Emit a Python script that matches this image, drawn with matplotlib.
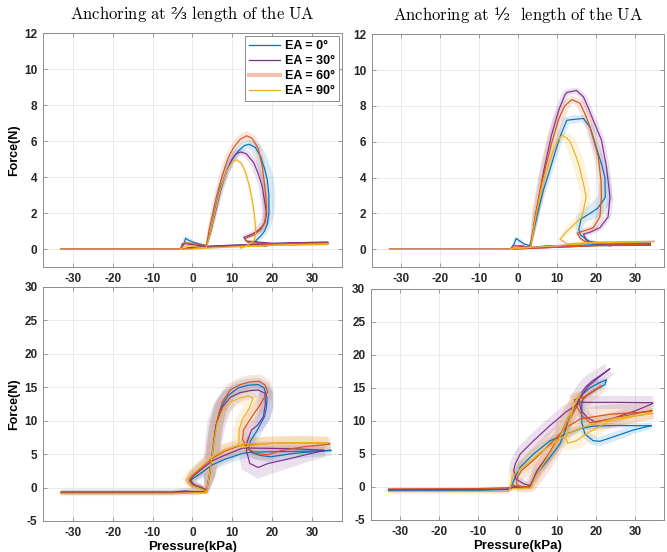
import numpy as np
import matplotlib
matplotlib.use('Agg')
import matplotlib.pyplot as plt
from matplotlib.path import Path
from matplotlib.patches import PathPatch
from matplotlib.lines import Line2D

plt.rcParams['font.family'] = ['Liberation Sans', 'DejaVu Sans']
plt.rcParams['font.weight'] = 'bold'
plt.rcParams['axes.unicode_minus'] = False
plt.rcParams['mathtext.fontset'] = 'cm'

# series colours / labels (MATLAB default order as used in the figure)
colors = ['#0072BD', '#7E2F8E', '#D95319', '#EDB120']
labels = ['EA = 0°', 'EA = 30°', 'EA = 60°', 'EA = 90°']
titles = [r'$\mathrm{Anchoring\ at}$ ⅔ $\mathrm{length\ of\ the\ UA}$',
          r'$\mathrm{Anchoring\ at}$ ½  $\mathrm{length\ of\ the\ UA}$']
xticks = [-30, -20, -10, 0, 10, 20, 30]

# ---- data: (pressure kPa, force N, spread N) ----
# top left: anchoring at 2/3
A_EA0 = [(-33,0,.02),(-3,0,.02),(-2.2,0.25,.09),(-1.7,0.6,.15),(-1,0.5,.15),(0,0.4,.12),(1.5,0.3,.09),
         (3.5,0.2,.06),(4.6,1.0,.09),(5.5,2.0,.12),(7,3.4,.15),(8.7,4.4,.18),(10,5.0,.18),(11.5,5.45,.2),
         (13,5.75,.24),(14.2,5.83,.27),(15.8,5.65,.3),(17.1,5.15,.33),(18.2,4.4,.36),(18.8,3.85,.36),
         (19.2,3.0,.36),(19.2,2.0,.3),(18.8,1.4,.24),(18.1,1.0,.2),(17,0.7,.18),(15.8,0.45,.12),
         (17.1,0.2,.06),(18.3,0.15,.05),(20,0.3,.03),(26,0.33,.03),(34,0.35,.03),(34,0.3,.03),
         (25,0.28,.03),(15,0.25,.03),(8,0.2,.03),(3.5,0.15,.03),(0,0.1,.03),(-3,0,.02)]
A_EA30 = [(-33,0,.02),(-3,0,.02),(-2.5,0.3,.06),(-1.5,0.3,.07),(0,0.25,.06),(2,0.2,.06),(3.5,0.15,.06),
          (4.5,0.9,.09),(5.5,1.8,.12),(7,3.2,.15),(8.5,4.3,.18),(10,5.0,.2),(11,5.3,.2),(12.1,5.4,.2),
          (13.5,5.3,.2),(15.4,4.8,.2),(16.5,4.2,.2),(17.5,3.5,.2),(18.6,2.0,.22),(18.2,1.5,.24),
          (17.5,1.25,.24),(16,0.95,.18),(14.6,0.8,.15),(12.9,0.65,.12),(13.5,0.45,.06),(20,0.33,.03),
          (34,0.4,.03),(34,0.35,.03),(20,0.3,.03),(8,0.2,.03),(3.5,0.15,.03),(0,0.1,.03),(-3,0,.02)]
A_EA60 = [(-33,0,.02),(-3,0,.02),(-2.5,0.3,.06),(-1.5,0.35,.09),(0,0.3,.09),(2,0.25,.06),(3.5,0.2,.06),
          (4.2,1.1,.09),(5,1.9,.12),(6,2.9,.15),(7.5,4.1,.18),(9,5.1,.2),(10.5,5.7,.2),(12,6.1,.24),
          (13.6,6.3,.27),(15,6.15,.24),(16.5,5.6,.18),(17.6,4.5,.18),(18.3,3.2,.18),(18.6,2.3,.18),
          (18.2,1.5,.18),(17.2,1.1,.15),(15.5,0.8,.12),(13.8,0.65,.09),(13.2,0.55,.06),(14,0.35,.05),
          (20,0.3,.03),(34,0.35,.03),(34,0.3,.03),(20,0.25,.03),(8,0.15,.03),(3.5,0.1,.03),
          (0,0.05,.03),(-3,0,.02)]
A_EA90 = [(-33,0,.02),(-3,0,.02),(-2,0.15,.03),(-1,0.2,.05),(0,0.15,.05),(2,0.1,.03),(3.5,0.1,.03),
          (4.5,0.9,.06),(5.5,1.9,.07),(7,3.3,.09),(8.5,4.3,.09),(10,4.85,.09),(11.1,4.96,.09),
          (12.2,4.8,.09),(13.3,4.3,.09),(14.3,3.5,.09),(15.1,2.6,.09),(15.7,1.6,.09),(15.9,0.9,.09),
          (15.6,0.55,.07),(14.6,0.33,.06),(13,0.12,.05),(12,0.05,.03),(12.3,0.15,.03),(20,0.22,.03),
          (34,0.3,.03),(34,0.25,.03),(20,0.2,.03),(8,0.1,.03),(3.5,0.05,.03),(0,0,.03),(-3,0,.02)]

# top right: anchoring at 1/2
B_EA0 = [(-33,0,.02),(-2,0,.03),(-1,0.3,.09),(-0.5,0.6,.12),(0.5,0.45,.12),(1.5,0.3,.09),(3,0.2,.06),
         (4,1.0,.09),(5,2.0,.12),(6.5,3.3,.15),(8,4.3,.18),(9.5,5.4,.18),(11,6.4,.2),(12.5,7.2,.24),
         (14.5,7.25,.24),(16.8,7.3,.2),(18.5,6.8,.18),(20.2,5.6,.18),(21.5,4.7,.2),(22.3,4.0,.28),
         (22.4,2.9,.4),(20.5,2.3,.45),(18.5,2.0,.4),(16.2,1.7,.3),(15.6,1.1,.2),(16,0.8,.15),
         (18.2,0.45,.12),(21,0.35,.06),(28,0.35,.03),(34,0.35,.03),(34,0.3,.03),(20,0.25,.03),
         (8,0.2,.03),(3,0.1,.03),(0,0.05,.03),(-2,0,.02)]
B_EA30 = [(-33,0,.02),(-2,0,.03),(-1,0.1,.06),(1,0.15,.06),(3.2,0.1,.06),(4.6,2.0,.18),(6.6,4.4,.2),
          (8.5,6.3,.2),(10.5,7.8,.2),(12,8.6,.18),(12.5,8.75,.18),(15,8.86,.18),(16.8,8.5,.18),
          (18,7.9,.18),(19.3,7.2,.18),(21.4,6.1,.18),(22.7,4.6,.18),(23.6,2.9,.18),(23.1,1.8,.18),
          (21,1.2,.18),(18.5,0.95,.15),(16.8,0.84,.12),(17.5,0.5,.09),(19,0.3,.06),(21.9,0.28,.06),
          (23.6,0.19,.06),(25,0.25,.03),(34,0.25,.03),(34,0.22,.03),(20,0.2,.03),(3,0.05,.03),
          (-2,0,.02)]
B_EA60 = [(-33,0,.02),(-2,0,.03),(-1,0.2,.06),(1,0.2,.06),(3.2,0.1,.06),(4.5,2.0,.2),(6.4,4.0,.27),
          (8.7,6.0,.3),(10.5,7.3,.3),(12,8.0,.27),(13.8,8.35,.24),(15.9,8.15,.24),(17.5,7.4,.24),
          (18.5,6.8,.24),(19.8,5.8,.24),(20.6,5.15,.24),(21.3,3.8,.2),(21.4,2.9,.2),(21,1.8,.2),
          (19.3,1.2,.2),(16.5,1.0,.15),(15.2,0.9,.12),(16,0.6,.09),(17.6,0.37,.06),(22,0.3,.03),
          (34,0.28,.03),(34,0.25,.03),(20,0.2,.03),(3,0.05,.03),(-2,0,.02)]
B_EA90 = [(-33,0,.02),(-2,0,.03),(-1,0.1,.06),(1,0.1,.06),(3.2,0.1,.06),(4.7,2.0,.18),(6.3,3.7,.2),
          (7.5,4.5,.18),(9,5.5,.18),(10.3,6.1,.18),(11.3,6.37,.2),(12.5,6.2,.27),(13.4,6.0,.33),
          (14.5,5.4,.33),(15.5,4.8,.33),(16.8,3.65,.3),(17.5,2.9,.27),(16.4,1.8,.27),(14,1.3,.22),
          (12.5,1.0,.18),(10.8,0.56,.12),(12.5,0.3,.06),(20,0.4,.03),(35,0.45,.03),(35,0.42,.03),
          (20,0.35,.03),(3,0.1,.03),(-2,0,.02)]

# bottom left: anchoring at 2/3, second loading condition
C_EA0 = [(-33,-0.7,.3),(-5,-0.7,.3),(0,-0.6,.3),(3.5,-0.6,.3),(4.2,1.5,.8),(5,5,1),(5.8,9,1),
         (7,11.8,1),(9,13.8,1),(11.5,14.9,1),(14,15.3,1),(16.5,15.4,1),(18,14.9,1),(18.7,13.5,1),
         (18.6,12,1),(18.1,10.6,.9),(16.3,8.6,.8),(14.6,7,.8),(14,5.8,.8),(15.3,5.1,.8),(17,4.8,.8),
         (19.6,4.6,.8),(25.4,5.1,.8),(34.8,5.6,.8),(34.8,5.5,.8),(25,5.4,.8),(15,5.3,.8),
         (12.5,5.1,.8),(8,4.2,.8),(5,3.4,.8),(2,2.1,.8),(0,1.3,.7),(-0.6,0.9,.6),(0.3,0.3,.5),
         (2,0,.4),(3.5,-0.3,.3)]
C_EA30 = [(-33,-0.7,.4),(-5,-0.7,.4),(-2,-0.5,.5),(0,-0.6,.5),(3.5,-0.6,.4),(4.3,2,1),(5,5.5,1.2),
          (6,9.5,1.4),(7.5,12,1.4),(9.5,13.5,1.4),(12,14.2,1.3),(14.5,14.5,1.2),(16.5,14.6,1.2),
          (18.2,14.1,1.2),(18.3,12.5,1.2),(17.8,10.6,1.1),(16.3,9.3,1),(14.8,8.6,1),(13.6,6.6,1),
          (13.6,5.4,1.2),(14.4,3.6,1.5),(16.5,3.0,1.7),(19,3.6,1.6),(21.3,3.9,1.5),(25,4.4,1.3),
          (29,5,1.1),(33,5.5,1),(33,5.6,1),(25,5.8,1),(15,5.9,1),(12.5,5.9,1),(8,4.8,1),(5,4.0,1),
          (2,2.6,.9),(0,1.6,.8),(-0.6,1.1,.7),(0.5,0.4,.6),(2,0.1,.5),(3.5,-0.4,.4)]
C_EA60 = [(-33,-0.8,.3),(-5,-0.8,.3),(0,-0.7,.3),(3.5,-0.7,.3),(4.3,2,.8),(5.2,6,1),(6.2,10,1),
          (7.5,12.8,1),(9.5,14.6,1),(12,15.4,1),(14.5,15.8,1),(16.8,15.9,1),(18.3,15.3,1),
          (18.9,14.3,1),(17,12.4,1),(14.6,10.3,.9),(12.8,8.6,.8),(12.6,7.2,.8),(13.5,6.0,.8),
          (16,5.1,.8),(19,4.9,.8),(22,5.5,.8),(28,6.1,.8),(34.5,6.5,.8),(34.5,6.6,.9),(28,6.7,1),
          (20,6.6,1),(12.5,6.4,1),(8,5.4,1),(5,4.4,1),(2,2.8,.9),(0,1.8,.8),(-0.8,1.1,.7),
          (0,0.4,.5),(2,0,.4),(3.5,-0.5,.3)]
C_EA90 = [(-33,-0.9,.4),(-5,-0.9,.4),(0,-0.8,.4),(3.5,-0.8,.3),(4.3,2,.8),(5.2,6,1),(6.2,9.5,1),
          (7.5,11.5,1),(9.5,12.8,1),(12,13.4,1),(14,13.7,1),(15.2,13.4,1),(14.2,11.8,1),
          (12.5,10.2,.9),(11.7,8.6,.9),(11.7,6.4,.9),(12.5,6.0,.9),(15,6.3,1),(20,6.6,1),(27,6.6,1),
          (34,6.6,1),(34,6.7,1),(27,6.7,1),(20,6.65,1),(12.5,6.5,1),(8,5.6,1),(5,4.6,1),(2,3.0,.9),
          (0,2.0,.8),(-1.4,1.3,.7),(-0.5,0.3,.6),(1.5,-0.1,.5),(3.5,-0.6,.4)]

# bottom right: anchoring at 1/2, second loading condition
D_EA0 = [(-33,-0.5,.2),(-10,-0.5,.2),(-2.5,-0.4,.2),(-1,0,.3),(1,-0.1,.3),(3,0,.3),(4.9,2,.5),
         (8.3,4.5,.5),(10.8,6.5,.5),(12.5,9,.5),(13.8,11.5,.5),(15.5,13.5,.5),(18.5,15,.5),
         (21,15.8,.5),(22.7,16.2,.4),(22.3,15.5,.4),(19.5,14.5,.4),(16.8,13.5,.4),(16.4,12.5,.4),
         (16.4,9.8,.5),(17.2,8,.6),(19.3,7,.7),(21,6.9,.7),(23.6,7.4,.7),(29.5,8.6,.6),(34.2,9.3,.5),
         (34.2,9.25,.4),(25.3,9.3,.4),(19.3,9.2,.4),(15.9,8.8,.5),(12.5,8,.6),(8.3,7,.6),(4.1,5,.6),
         (0.7,3,.5),(-0.6,1.5,.4),(-1.5,0.2,.3),(-2.5,-0.4,.2)]
D_EA30 = [(-33,-0.4,.2),(-10,-0.35,.2),(-2,-0.3,.2),(-1,0,.3),(1,0,.4),(3.2,0.1,.5),(5,2.5,.8),
          (8,5,.9),(11,8,1),(13,10.5,1),(15.5,13,1),(18,15.2,1.2),(21,16.7,1.2),(23.6,17.9,1),
          (22,17.2,1),(19,16,1.2),(17.5,15.2,1.2),(15.5,13.5,1.2),(16.3,11.5,1),(18,10.4,.8),
          (20,9.8,.8),(24,10.3,.8),(30,11.5,.8),(34.5,12.6,.8),(34.5,12.75,1),(25,12.8,1),
          (16,12.8,1),(12.5,11.4,1),(8.3,9.3,1),(4.1,7,1),(0.7,5,.9),(-0.6,3.5,.8),(-1,2.5,.7),
          (-0.4,1.2,.6),(1.5,0.5,.5),(3.2,0.2,.5)]
D_EA60 = [(-33,-0.3,.2),(-10,-0.25,.2),(-2,-0.1,.2),(-1,0.3,.4),(0,0.1,.8),(2,0,.9),(3.2,0,.9),
          (4.5,1.5,1.2),(6.5,3.5,1.4),(9,6,1.5),(11.5,8.5,1.5),(13.5,10.5,1.5),(15.5,12.5,1.4),
          (18,14,1.2),(21.5,15.3,1),(20,14.8,.8),(17,13.6,1),(14.5,13.2,1),(15,12.3,1.2),
          (16.5,10.8,1.3),(18.5,9.7,1.3),(23.6,10.3,1.4),(34.4,11.6,1.3),(34.2,11.4,1.3),
          (23.6,11,1.5),(16,10.3,1.5),(12.5,9,1.5),(8,6.3,1.5),(4,4,1.4),(1,2.5,1.2),(0,1.5,1),
          (-0.3,0.5,.8),(0.5,0.1,.7),(2,0,.6),(3.2,0,.5)]
D_EA90 = [(-33,-0.7,.4),(-10,-0.7,.4),(-2.5,-0.7,.4),(-1.5,-0.3,.4),(1,-0.2,.5),(3.3,-0.2,.5),
          (5,2,.8),(8,4.8,1),(11,7.8,1),(13,10.5,1),(14.8,12.8,1),(16.2,14.2,.9),(15.5,13.6,.9),
          (14.2,12,1),(13,9.5,1.1),(12.3,7.5,1.2),(12.8,6.6,1.2),(15,7,1.3),(18,8.2,1.2),
          (23.6,10,1),(34.6,11.2,.8),(34.6,11.1,.8),(25,10.4,1),(18,9.3,1.1),(12.5,8,1.1),
          (11,7.3,1.1),(6,5.3,1.1),(3,3.8,1),(0,2.4,.8),(-1.4,1.5,.6),(-1.8,0,.4),(-2.5,-0.7,.4)]

panels = [
    [A_EA0, A_EA30, A_EA60, A_EA90],
    [B_EA0, B_EA30, B_EA60, B_EA90],
    [C_EA0, C_EA30, C_EA60, C_EA90],
    [D_EA0, D_EA30, D_EA60, D_EA90],
]


def band(ax, xy, spread, color):
    # shaded spread drawn as a ribbon perpendicular to the curve (in screen space)
    T = ax.transData
    pts = T.transform(xy)
    ppu = T.transform([(0, 1)])[0, 1] - T.transform([(0, 0)])[0, 1]
    w = spread * ppu
    d = np.gradient(pts, axis=0)
    nrm = np.hypot(d[:, 0], d[:, 1]) + 1e-9
    n = np.column_stack([-d[:, 1] / nrm, d[:, 0] / nrm])
    up = pts + n * w[:, None]
    lo = pts - n * w[:, None]
    verts, codes = [], []
    for i in range(len(pts) - 1):
        q = np.array([up[i], up[i + 1], lo[i + 1], lo[i]])
        area = 0.5 * np.sum(q[:, 0] * np.roll(q[:, 1], -1) - np.roll(q[:, 0], -1) * q[:, 1])
        if area < 0:
            q = q[::-1]
        verts.extend(q)
        verts.append(q[0])
        codes += [Path.MOVETO, Path.LINETO, Path.LINETO, Path.LINETO, Path.CLOSEPOLY]
    verts = T.inverted().transform(np.array(verts))
    ax.add_patch(PathPatch(Path(verts, codes), fc=color, ec='none', alpha=0.15, zorder=1))


fig = plt.figure(figsize=(6.67, 5.52), dpi=100)
rects = [
    [0.0645, 0.516, 0.448, 0.424],
    [0.5577, 0.516, 0.438, 0.422],
    [0.0645, 0.0562, 0.448, 0.424],
    [0.556, 0.058, 0.440, 0.419],
]
ylims = [(-1, 12), (-1, 12), (-5, 30), (-5, 30)]
yticks = [np.arange(0, 13, 2), np.arange(0, 13, 2), np.arange(-5, 31, 5), np.arange(-5, 31, 5)]

for k in range(4):
    ax = fig.add_axes(rects[k])
    ax.set_xlim(-37.5, 37.5)
    ax.set_ylim(*ylims[k])
    ax.set_xticks(xticks)
    ax.set_yticks(yticks[k])
    ax.grid(color='#e6e6e6', lw=0.6)
    ax.set_axisbelow(True)
    for sp in ax.spines.values():
        sp.set_color('#8c8c8c')
        sp.set_linewidth(0.7)
    ax.tick_params(direction='in', top=True, right=True, length=3, width=0.6,
                   color='#8c8c8c', labelsize=8.5, labelcolor='#262626', pad=4)

    for data, c in zip(panels[k], colors):
        arr = np.array(data, dtype=float)
        band(ax, arr[:, :2], arr[:, 2], c)
    for data, c in zip(panels[k], colors):
        arr = np.array(data, dtype=float)
        ax.plot(arr[:, 0], arr[:, 1], color=c, lw=0.85, zorder=3)

    if k < 2:
        ax.set_title(titles[k], family=['DejaVu Serif'], fontweight='normal',
                     fontsize=12, pad=10)
    if k in (0, 2):
        ax.set_ylabel('Force(N)', fontsize=9, fontweight='bold', labelpad=3)
    if k >= 2:
        ax.set_xlabel('Pressure(kPa)', fontsize=9.5, fontweight='bold', labelpad=2)
    if k == 0:
        handles = [Line2D([], [], color=colors[0], lw=0.9),
                   Line2D([], [], color=colors[1], lw=0.9),
                   Line2D([], [], color=colors[2], lw=3, alpha=0.35),
                   Line2D([], [], color=colors[3], lw=0.9)]
        leg = ax.legend(handles, labels, loc='upper right', prop={'weight': 'bold', 'size': 9},
                        fancybox=False, edgecolor='#8c8c8c', framealpha=1, borderaxespad=0.25,
                        handlelength=2.5, labelspacing=0.25, borderpad=0.3, handletextpad=0.4)
        leg.get_frame().set_linewidth(0.7)

fig.savefig('out.png', dpi=100)
